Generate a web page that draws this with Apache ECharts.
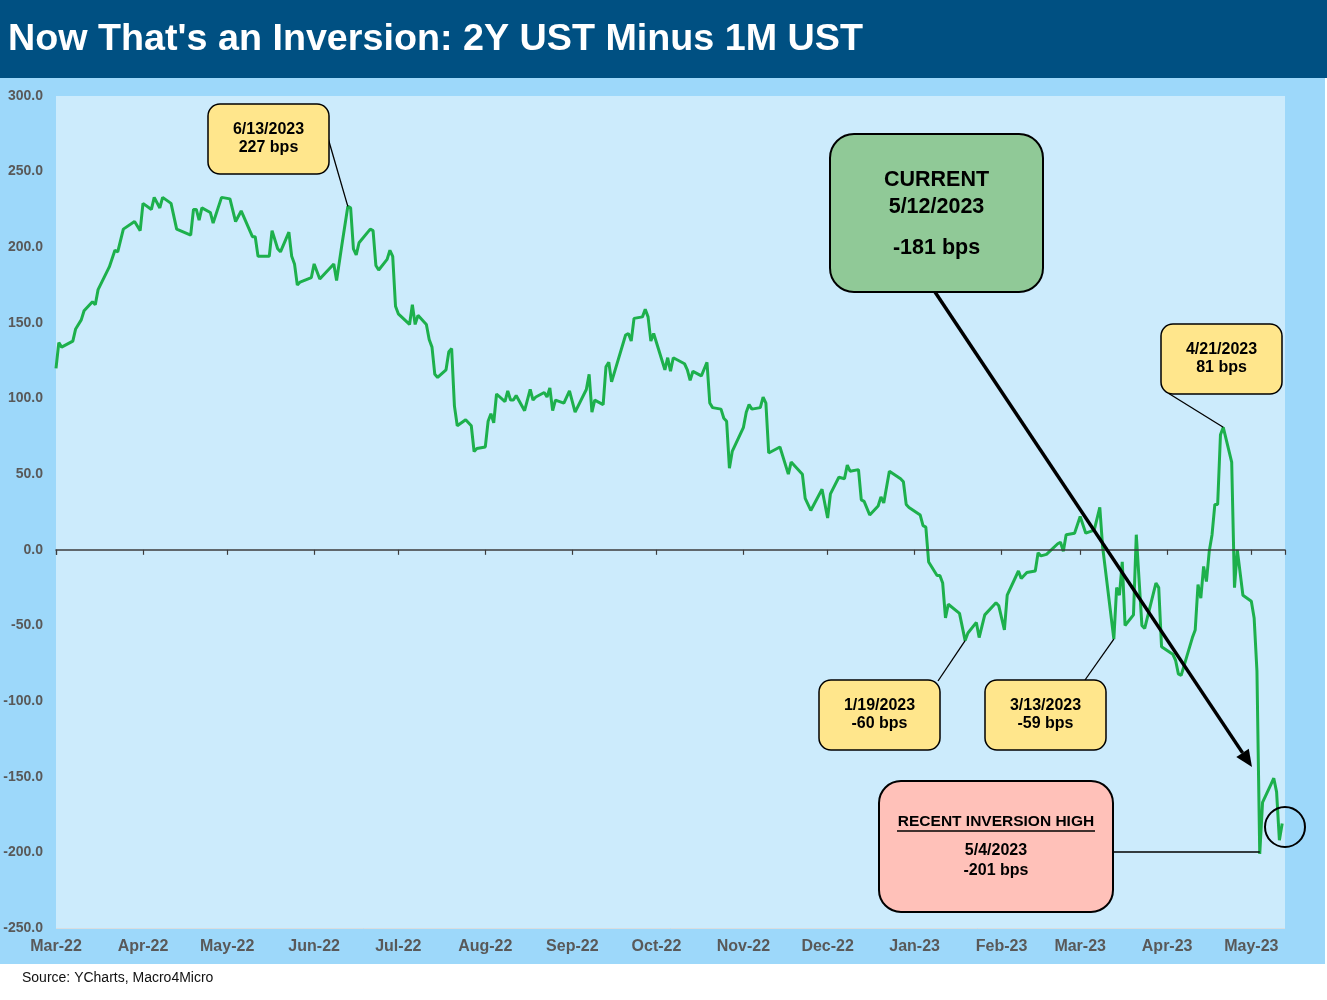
<!DOCTYPE html>
<html>
<head>
<meta charset="utf-8">
<script src="https://cdn.jsdelivr.net/npm/echarts@6.0.0/dist/echarts.min.js"></script>
<style>
html,body{margin:0;padding:0;background:#fff;}
#c{width:1327px;height:1000px;}
</style>
</head>
<body>
<div id="c"></div>
<script>
const titleText = "Now That's an Inversion: 2Y UST Minus 1M UST";
const sourceText = "Source: YCharts, Macro4Micro";
const monthNames = ['Jan','Feb','Mar','Apr','May','Jun','Jul','Aug','Sep','Oct','Nov','Dec'];
const xMin = '2022-03-01';
const xMax = '2023-05-13';
const yMin = -250, yMax = 300, yStep = 50;

const dates = [
'2022-03-01','2022-03-02','2022-03-03','2022-03-07','2022-03-08','2022-03-10','2022-03-11','2022-03-14','2022-03-15','2022-03-16',
'2022-03-20','2022-03-22','2022-03-23','2022-03-25','2022-03-29','2022-03-31','2022-04-01','2022-04-04','2022-04-05','2022-04-07',
'2022-04-08','2022-04-11','2022-04-13','2022-04-18','2022-04-19','2022-04-20','2022-04-21','2022-04-22','2022-04-25','2022-04-26',
'2022-04-29','2022-05-02','2022-05-04','2022-05-06','2022-05-10','2022-05-11','2022-05-12','2022-05-16','2022-05-17','2022-05-19',
'2022-05-20','2022-05-23','2022-05-24','2022-05-25','2022-05-26','2022-05-27','2022-05-31','2022-06-01','2022-06-03','2022-06-08',
'2022-06-09','2022-06-11','2022-06-13','2022-06-14','2022-06-15','2022-06-16','2022-06-17','2022-06-21','2022-06-22','2022-06-23',
'2022-06-24','2022-06-27','2022-06-28','2022-06-29','2022-06-30','2022-07-01','2022-07-05','2022-07-06','2022-07-07','2022-07-08',
'2022-07-11','2022-07-12','2022-07-13','2022-07-14','2022-07-15','2022-07-18','2022-07-19','2022-07-20','2022-07-21','2022-07-22',
'2022-07-25','2022-07-27','2022-07-28','2022-07-29','2022-08-01','2022-08-02','2022-08-03','2022-08-04','2022-08-05','2022-08-08',
'2022-08-09','2022-08-10','2022-08-11','2022-08-12','2022-08-15','2022-08-17','2022-08-18','2022-08-19','2022-08-22','2022-08-23',
'2022-08-24','2022-08-25','2022-08-26','2022-08-29','2022-08-31','2022-09-02','2022-09-06','2022-09-07','2022-09-08','2022-09-09',
'2022-09-12','2022-09-13','2022-09-14','2022-09-15','2022-09-20','2022-09-21','2022-09-22','2022-09-23','2022-09-26','2022-09-27',
'2022-09-28','2022-09-29','2022-09-30','2022-10-04','2022-10-05','2022-10-06','2022-10-07','2022-10-11','2022-10-12','2022-10-13',
'2022-10-14','2022-10-17','2022-10-19','2022-10-20','2022-10-21','2022-10-24','2022-10-25','2022-10-26','2022-10-27','2022-10-28',
'2022-11-01','2022-11-02','2022-11-03','2022-11-04','2022-11-07','2022-11-08','2022-11-09','2022-11-10','2022-11-14','2022-11-17',
'2022-11-18','2022-11-22','2022-11-23','2022-11-25','2022-11-29','2022-12-01','2022-12-02','2022-12-05','2022-12-07','2022-12-08',
'2022-12-09','2022-12-12','2022-12-13','2022-12-14','2022-12-16','2022-12-19','2022-12-20','2022-12-21','2022-12-23','2022-12-27',
'2022-12-28','2022-12-29','2022-12-30','2023-01-03','2023-01-04','2023-01-05','2023-01-06','2023-01-09','2023-01-10','2023-01-11',
'2023-01-12','2023-01-13','2023-01-17','2023-01-19','2023-01-20','2023-01-23','2023-01-24','2023-01-26','2023-01-30','2023-01-31',
'2023-02-02','2023-02-03','2023-02-07','2023-02-08','2023-02-10','2023-02-13','2023-02-14','2023-02-15','2023-02-17','2023-02-21',
'2023-02-22','2023-02-23','2023-02-24','2023-02-27','2023-03-01','2023-03-03','2023-03-06','2023-03-08','2023-03-09','2023-03-13',
'2023-03-14','2023-03-15','2023-03-16','2023-03-17','2023-03-20','2023-03-21','2023-03-23','2023-03-24','2023-03-28','2023-03-29',
'2023-03-30','2023-04-03','2023-04-04','2023-04-05','2023-04-06','2023-04-10','2023-04-11','2023-04-12','2023-04-13','2023-04-14',
'2023-04-15','2023-04-16','2023-04-17','2023-04-18','2023-04-19','2023-04-20','2023-04-21','2023-04-24','2023-04-25','2023-04-26',
'2023-04-28','2023-05-01','2023-05-02','2023-05-03','2023-05-04','2023-05-05','2023-05-08','2023-05-09','2023-05-10','2023-05-11',
'2023-05-12'
];
const values = [
120,137,134,138,146,152,158,164,162,172,
187,198,197,212,217,211,229,225,233,226,
233,229,212,208,225,225,218,226,223,216,
233,232,217,224,207,207,194,194,211,199,
197,210,194,189,175,177,180,189,179,189,
178,203,227,226,199,195,203,212,211,188,
185,192,198,194,161,156,149,162,149,155,
149,139,134,116,114,119,131,133,95,82,
86,82,65,67,68,85,90,84,103,98,
105,99,99,102,92,106,99,101,104,101,
107,92,99,97,105,91,106,116,91,99,
96,121,124,111,142,143,138,153,154,159,
154,138,143,119,127,118,127,123,119,112,
118,115,124,97,94,93,87,85,54,65,
81,91,96,93,94,101,97,64,68,50,
58,50,34,26,40,21,37,48,47,56,
52,53,33,32,23,29,35,31,52,47,
45,30,28,23,16,15,-8,-17,-17,-22,
-45,-36,-42,-60,-55,-48,-58,-43,-35,-37,
-53,-30,-14,-19,-15,-14,-2,-4,-3,4,
5,-1,10,11,22,11,13,28,2,-59,
-25,-30,-8,-50,-43,10,-50,-52,-22,-25,
-64,-69,-73,-82,-83,-58,-53,-23,-32,-11,
-21,-1,10,30,30,76,81,58,-25,0,
-30,-34,-45,-80,-201,-167,-155,-151,-160,-192,
-181
];

// annotation callouts: anchor point (date, value) and text lines
const calloutJun = { date:'2022-06-13', value:227, lines:['6/13/2023','227 bps'] };
const calloutApr = { date:'2023-04-21', value:81, lines:['4/21/2023','81 bps'] };
const calloutJan = { date:'2023-01-19', value:-60, lines:['1/19/2023','-60 bps'] };
const calloutMar = { date:'2023-03-13', value:-59, lines:['3/13/2023','-59 bps'] };
const calloutLow = { date:'2023-05-04', value:-201, lines:['RECENT INVERSION HIGH','5/4/2023','-201 bps'] };
const calloutCur = { lines:['CURRENT','5/12/2023','-181 bps'] };

const DAY = 86400000;
const FONT = '"Liberation Sans", Arial, Helvetica, sans-serif';

const chart = echarts.init(document.getElementById('c'));

chart.setOption({
  backgroundColor:'#ffffff',
  animation:false,
  grid:{left:56,right:42,top:96,bottom:72,show:true,backgroundColor:'#CCEBFC',borderWidth:0,z:1},
  xAxis:[
    {type:'time',min:xMin,max:xMax,position:'top',splitNumber:15,minInterval:28*DAY,maxInterval:31*DAY,
     axisLine:{show:true,onZero:true,lineStyle:{color:'#3c3c3c',width:1.5}},
     axisTick:{show:true,inside:true,length:5,lineStyle:{color:'#3c3c3c',width:1.2}},
     axisLabel:{show:false},splitLine:{show:false},z:5},
    {type:'time',min:xMin,max:xMax,position:'bottom',splitNumber:15,minInterval:28*DAY,maxInterval:31*DAY,
     axisLine:{show:false,onZero:false},axisTick:{show:false},splitLine:{show:false},
     axisLabel:{color:'#595959',fontSize:16,fontWeight:'bold',fontFamily:FONT,margin:11,
       formatter:function(v){const d=new Date(v);return monthNames[d.getMonth()]+'-'+String(d.getFullYear()).slice(2);}}}
  ],
  yAxis:{type:'value',min:yMin,max:yMax,interval:yStep,
    axisLine:{show:false},axisTick:{show:false},
    axisLabel:{color:'#595959',fontSize:14,fontWeight:'bold',fontFamily:FONT,margin:13,formatter:function(v){return v.toFixed(1);}},
    splitLine:{lineStyle:{color:'#D8DDE0',width:1}}},
  series:[{type:'line',xAxisIndex:0,yAxisIndex:0,data:dates.map((d,i)=>[d,values[i]]),
    showSymbol:false,symbol:'none',lineStyle:{color:'#1DB04C',width:3},z:4}]
});

function px(d,v){return chart.convertToPixel({seriesIndex:0},[d,v]);}
function rect(x,y,w,h,r,fill,lw,z){return {type:'rect',shape:{x:x,y:y,width:w,height:h,r:r},style:{fill:fill,stroke:'#000',lineWidth:lw},z:z||60,silent:true};}
function txt(s,x,y,size,z){return {type:'text',style:{text:s,x:x,y:y,font:'bold '+size+'px '+FONT,fill:'#000',align:'center',verticalAlign:'middle',textAlign:'center',textVerticalAlign:'middle'},z:z||61,silent:true};}
function line(x1,y1,x2,y2,lw,z){return {type:'line',shape:{x1:x1,y1:y1,x2:x2,y2:y2},style:{stroke:'#000',lineWidth:lw},z:z||55,silent:true};}

const g = [];
// backgrounds
g.push({type:'rect',shape:{x:0,y:78,width:1325,height:886},style:{fill:'#9DD8FA'},z:-20,silent:true});
g.push({type:'rect',shape:{x:0,y:0,width:1327,height:78},style:{fill:'#005082'},z:-19,silent:true});
g.push({type:'text',style:{text:titleText,x:8,y:40,font:'bold 37.7px '+FONT,fill:'#ffffff',align:'left',verticalAlign:'middle',textAlign:'left',textVerticalAlign:'middle'},z:10,silent:true});
g.push({type:'text',style:{text:sourceText,x:22,y:978,font:'14px '+FONT,fill:'#111',align:'left',verticalAlign:'middle',textAlign:'left',textVerticalAlign:'middle'},z:10,silent:true});

// yellow callouts
function yellow(c,bx,by,lx,ly){
  const p = px(c.date,c.value);
  g.push(line(lx,ly,p[0],p[1],1.3,55));
  g.push(rect(bx,by,121,70,12,'#FFE68C',1.5,60));
  g.push(txt(c.lines[0],bx+60.5,by+26,16));
  g.push(txt(c.lines[1],bx+60.5,by+44,16));
}
yellow(calloutJun,208,104,328,138);
yellow(calloutApr,1161,324,1168,393);
yellow(calloutJan,819,680,938,681);
yellow(calloutMar,985,680,1085,680);

// current box with arrow
g.push(rect(830,134,213,158,24,'#90C997',2,60));
g.push(txt(calloutCur.lines[0],936.5,180,21.5));
g.push(txt(calloutCur.lines[1],936.5,207,21.5));
g.push(txt(calloutCur.lines[2],936.5,248,21.5));
(function(){
  const x1=935,y1=292,x2=1252,y2=767;
  const dx=x2-x1,dy=y2-y1,L=Math.sqrt(dx*dx+dy*dy),ux=dx/L,uy=dy/L;
  const hl=17,hw=7.5;
  const bx=x2-ux*hl,by=y2-uy*hl;
  g.push(line(x1,y1,bx,by,3.5,56));
  g.push({type:'polygon',shape:{points:[[x2,y2],[bx-uy*hw,by+ux*hw],[bx+uy*hw,by-ux*hw]]},style:{fill:'#000'},z:56,silent:true});
})();

// pink box
(function(){
  const p = px(calloutLow.date,calloutLow.value);
  g.push(line(1113,852,p[0],p[1]-2,1.5,55));
  g.push(rect(879,781,234,131,22,'#FFC1B9',2,60));
  g.push(txt(calloutLow.lines[0],996,822,15.5));
  g.push(line(897,831,1095,831,1.6,61));
  g.push(txt(calloutLow.lines[1],996,851,16));
  g.push(txt(calloutLow.lines[2],996,871,16));
})();

// circle round the current value
g.push({type:'circle',shape:{cx:1285,cy:827,r:20},style:{fill:'none',stroke:'#000',lineWidth:2},z:57,silent:true});

chart.setOption({graphic:{elements:g}});
</script>
</body>
</html>
